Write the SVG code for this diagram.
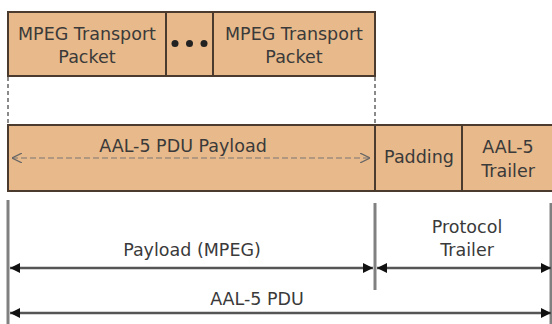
<svg xmlns="http://www.w3.org/2000/svg" width="552" height="324" viewBox="0 0 552 324">
<style>
.box{fill:#E8B98A;stroke:#4a3b2e;stroke-width:2}
.t{font-family:"DejaVu Sans",Verdana,sans-serif;font-size:17.5px;fill:#3a3a3a;text-anchor:middle}
.dash{stroke:#8a8a8a;stroke-width:2;stroke-dasharray:4,3;fill:none}
.vl{stroke:#808080;stroke-width:3;fill:none}
.ar{stroke:#555;stroke-width:2.5;fill:none}
.da{stroke:#777;stroke-width:1.2;stroke-dasharray:6,3;fill:none}
</style>
<defs>
<marker id="fa" viewBox="0 0 10 10" refX="10" refY="5" markerWidth="10" markerHeight="10" markerUnits="userSpaceOnUse" orient="auto-start-reverse">
<path d="M0,0 L10,5 L0,10 z" fill="#111"/>
</marker>
<marker id="oa" viewBox="0 0 10 10" refX="10" refY="5" markerWidth="10" markerHeight="10" markerUnits="userSpaceOnUse" orient="auto-start-reverse">
<path d="M0,0 L10,5 L0,10" fill="none" stroke="#666" stroke-width="1.2"/>
</marker>
</defs>
<rect width="552" height="324" fill="#fff"/>
<g id="mpeg1">
<rect class="box" x="8" y="12" width="158" height="64"/>
<text class="t" x="87" y="40">MPEG Transport</text>
<text class="t" x="87" y="63">Packet</text>
</g>
<g id="dots">
<rect class="box" x="166" y="12" width="47" height="64"/>
<circle cx="175" cy="43.5" r="3.5" fill="#222"/>
<circle cx="189.5" cy="43.5" r="3.5" fill="#222"/>
<circle cx="204" cy="43.5" r="3.5" fill="#222"/>
</g>
<g id="mpeg2">
<rect class="box" x="213" y="12" width="162" height="64"/>
<text class="t" x="294" y="40">MPEG Transport</text>
<text class="t" x="294" y="63">Packet</text>
</g>
<g id="payload">
<rect class="box" x="8" y="125" width="367" height="66"/>
<text class="t" x="183" y="152">AAL-5 PDU Payload</text>
</g>
<g id="padding">
<rect class="box" x="375" y="125" width="87" height="66"/>
<text class="t" x="419" y="163">Padding</text>
</g>
<g id="trailer">
<rect class="box" x="462" y="125" width="95" height="66"/>
<text class="t" x="508" y="153">AAL-5</text>
<text class="t" x="508" y="177">Trailer</text>
</g>
<g id="labels">
<text class="t" x="192" y="256">Payload (MPEG)</text>
<text class="t" x="467" y="233">Protocol</text>
<text class="t" x="467" y="256">Trailer</text>
<text class="t" x="257" y="305">AAL-5 PDU</text>
</g>
<g id="connectors">
<line class="dash" x1="8" y1="77" x2="8" y2="124"/>
<line class="dash" x1="375" y1="77" x2="375" y2="124"/>
<line class="da" x1="12" y1="158" x2="370" y2="158" marker-start="url(#oa)" marker-end="url(#oa)"/>
<line class="vl" x1="8" y1="200" x2="8" y2="324"/>
<line class="vl" x1="375" y1="203" x2="375" y2="290"/>
<line class="vl" x1="551" y1="203" x2="551" y2="324"/>
<line class="ar" x1="10" y1="268" x2="373" y2="268" marker-start="url(#fa)" marker-end="url(#fa)"/>
<line class="ar" x1="377" y1="268" x2="551" y2="268" marker-start="url(#fa)" marker-end="url(#fa)"/>
<line class="ar" x1="10" y1="313" x2="551" y2="313" marker-start="url(#fa)" marker-end="url(#fa)"/>
</g>
</svg>
